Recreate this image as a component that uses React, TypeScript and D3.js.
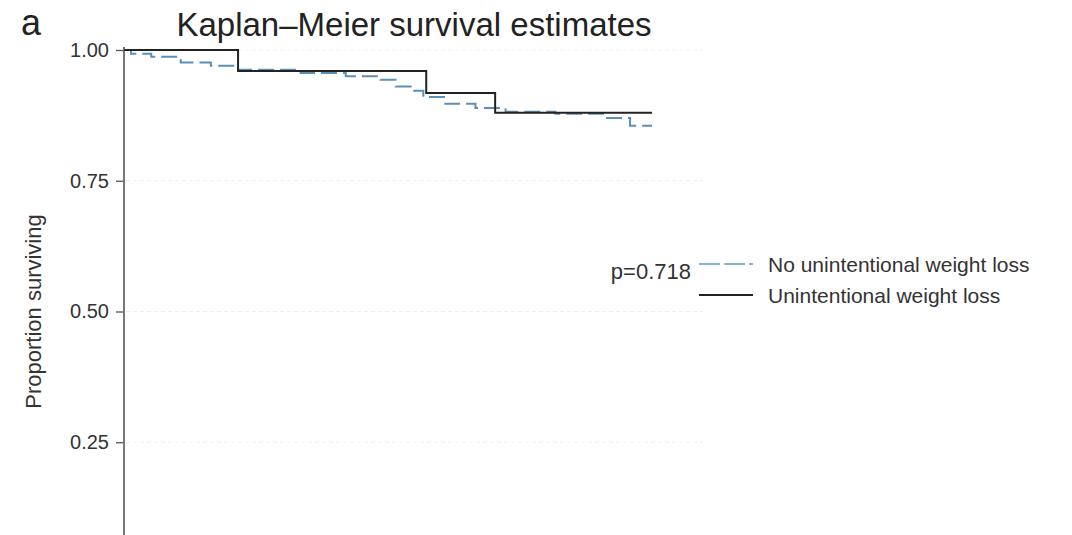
import { useEffect, useRef } from 'react';
import * as d3 from 'd3';

// survival steps, time in arbitrary follow-up units (0-100 across the plot)
const noLossTimes = [0, 1.2, 4.7, 9.8, 15, 19.7, 30.5, 38.3, 44.3, 46.9, 49.5, 51.7, 55.5, 60.7, 65.9, 74.5, 83.1, 87.4, 91.2];
const noLossSurv = [1.0, 0.993, 0.987, 0.976, 0.97, 0.962, 0.956, 0.95, 0.943, 0.93, 0.922, 0.91, 0.897, 0.889, 0.882, 0.878, 0.87, 0.855, 0.855];

const lossTimes = [0, 19.7, 52.2, 64.1, 91.2];
const lossSurv = [1.0, 0.96, 0.918, 0.88, 0.88];

const yTicks = [0.25, 0.5, 0.75, 1.0];
const seriesNames = ['No unintentional weight loss', 'Unintentional weight loss'];
const pValue = 'p=0.718';

const W = 1072;
const H = 535;
const FONT = 'Liberation Sans, Arial, sans-serif';

const App = () => {
    const svgRef = useRef<SVGSVGElement>(null);

    useEffect(() => {
        const svg = d3.select(svgRef.current);
        svg.selectAll('*').remove();

        const x = d3.scaleLinear().domain([0, 100]).range([124, 703]);
        const y = d3.scaleLinear().domain([0, 1]).range([573, 50]);

        // faint grid
        svg.append('g')
            .selectAll('line')
            .data(yTicks)
            .join('line')
            .attr('x1', 126)
            .attr('x2', 703)
            .attr('y1', d => y(d))
            .attr('y2', d => y(d))
            .attr('stroke', '#efefef')
            .attr('stroke-dasharray', '4,3')
            .attr('stroke-width', 1);

        // y axis
        const axis = svg.append('g')
            .attr('transform', `translate(${x(0)},0)`)
            .call(d3.axisLeft(y).tickValues(yTicks).tickFormat(d3.format('.2f')).tickSize(8).tickPadding(7));
        axis.select('.domain').remove();
        axis.append('line')
            .attr('x1', 0).attr('x2', 0)
            .attr('y1', y(1) - 3).attr('y2', H)
            .attr('stroke', '#777').attr('stroke-width', 2);
        axis.selectAll('.tick line').attr('stroke', '#555').attr('stroke-width', 1.3);
        axis.selectAll('.tick text')
            .attr('fill', '#333')
            .style('font-family', FONT)
            .style('font-size', '20px');

        svg.append('text')
            .attr('transform', `translate(41,${y(0.5)}) rotate(-90)`)
            .attr('text-anchor', 'middle')
            .attr('fill', '#333')
            .style('font-family', FONT)
            .style('font-size', '22px')
            .text('Proportion surviving');

        // title + panel letter
        svg.append('text')
            .attr('x', 21).attr('y', 35)
            .attr('fill', '#222')
            .style('font-family', FONT)
            .style('font-size', '36px')
            .text('a');
        svg.append('text')
            .attr('x', 414).attr('y', 36)
            .attr('text-anchor', 'middle')
            .attr('fill', '#222')
            .style('font-family', FONT)
            .style('font-size', '33px')
            .text('Kaplan–Meier survival estimates');

        const line = d3.line<[number, number]>()
            .x(d => x(d[0]))
            .y(d => y(d[1]))
            .curve(d3.curveStepAfter);

        svg.append('path')
            .datum(noLossTimes.map((t, i) => [t, noLossSurv[i]] as [number, number]))
            .attr('d', line)
            .attr('fill', 'none')
            .attr('stroke', '#5b8fb8')
            .attr('stroke-width', 2)
            .attr('stroke-dasharray', '16,6');

        svg.append('path')
            .datum(lossTimes.map((t, i) => [t, lossSurv[i]] as [number, number]))
            .attr('d', line)
            .attr('fill', 'none')
            .attr('stroke', '#222')
            .attr('stroke-width', 2);

        // legend
        const legend = svg.append('g');
        legend.append('text')
            .attr('x', 691).attr('y', 279)
            .attr('text-anchor', 'end')
            .attr('fill', '#333')
            .style('font-family', FONT)
            .style('font-size', '22px')
            .text(pValue);

        const items = legend.selectAll('g.item')
            .data(seriesNames)
            .join('g')
            .attr('class', 'item')
            .attr('transform', (d, i) => `translate(699,${264 + i * 31})`);
        items.append('line')
            .attr('x1', 0).attr('x2', 54)
            .attr('stroke', (d, i) => (i === 0 ? '#86b3d1' : '#222'))
            .attr('stroke-width', 2)
            .attr('stroke-dasharray', (d, i) => (i === 0 ? '21,4' : null));
        items.append('text')
            .attr('x', 69).attr('y', 8)
            .attr('fill', '#333')
            .style('font-family', FONT)
            .style('font-size', '21px')
            .text(d => d);
    }, []);

    return (
        <svg
            ref={svgRef}
            width={W}
            height={H}
            style={{ position: 'absolute', left: 0, top: 0, background: '#fff' }}
        />
    );
};

export default App;
